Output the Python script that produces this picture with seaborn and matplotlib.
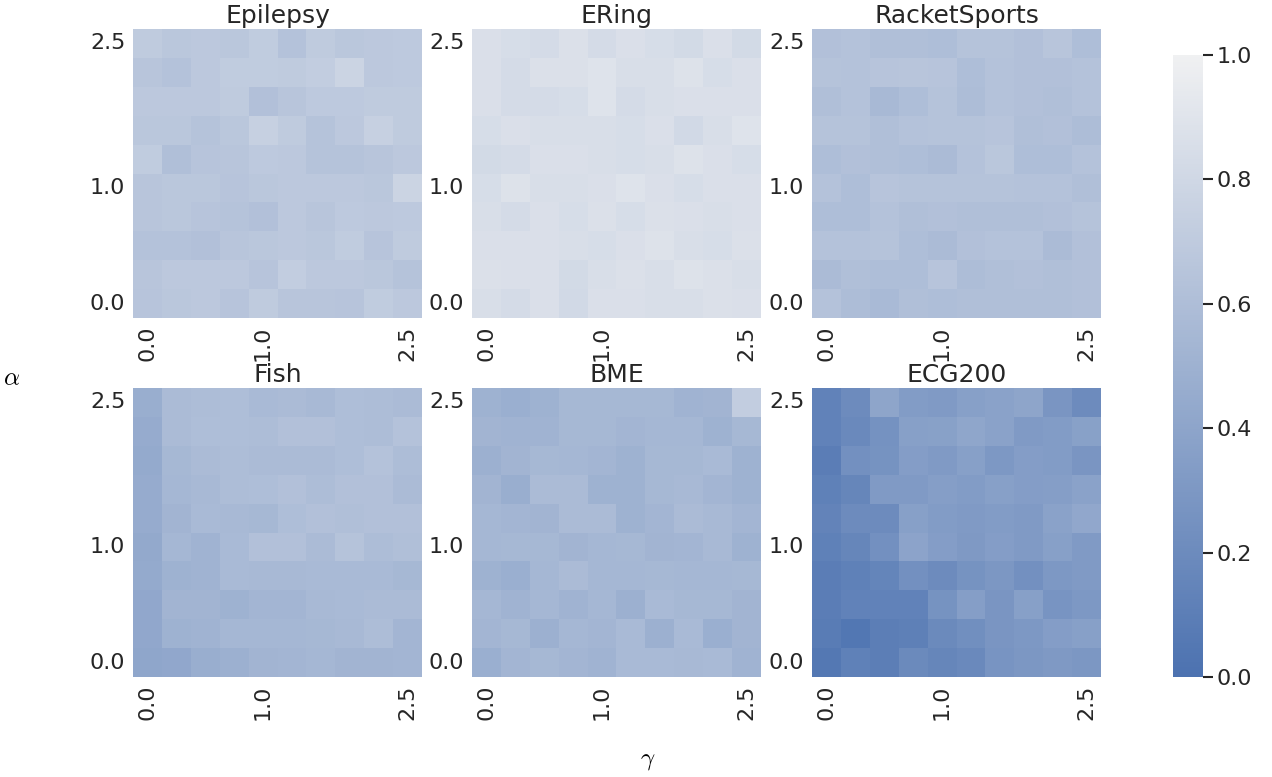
import numpy as np
import matplotlib
matplotlib.use("Agg")
import matplotlib.pyplot as plt
import seaborn as sns

sns.set_theme(style="darkgrid")
plt.rcParams["font.family"] = ["DejaVu Sans"]
plt.rcParams["mathtext.fontset"] = "cm"

# Grid labels (rows: alpha from 2.5 at top down to 0.0, columns: gamma 0.0 -> 2.5)
alpha_labels = ["2.5", "", "", "", "", "1.0", "", "", "", "0.0"]
gamma_labels = ["0.0", "", "", "", "1.0", "", "", "", "", "2.5"]

datasets = ["Epilepsy", "ERing", "RacketSports", "Fish", "BME", "ECG200"]

epilepsy = [
    [0.70, 0.67, 0.68, 0.67, 0.71, 0.63, 0.70, 0.67, 0.68, 0.69],
    [0.66, 0.63, 0.68, 0.71, 0.71, 0.70, 0.72, 0.77, 0.68, 0.69],
    [0.68, 0.68, 0.68, 0.70, 0.62, 0.66, 0.69, 0.69, 0.70, 0.70],
    [0.67, 0.67, 0.64, 0.67, 0.74, 0.70, 0.64, 0.68, 0.74, 0.70],
    [0.71, 0.61, 0.65, 0.66, 0.69, 0.68, 0.64, 0.64, 0.66, 0.68],
    [0.66, 0.67, 0.67, 0.65, 0.67, 0.68, 0.68, 0.68, 0.67, 0.77],
    [0.66, 0.67, 0.65, 0.64, 0.62, 0.68, 0.66, 0.69, 0.68, 0.69],
    [0.63, 0.63, 0.62, 0.66, 0.67, 0.68, 0.67, 0.71, 0.65, 0.70],
    [0.66, 0.68, 0.68, 0.68, 0.65, 0.72, 0.68, 0.68, 0.67, 0.64],
    [0.65, 0.67, 0.68, 0.65, 0.70, 0.66, 0.66, 0.65, 0.71, 0.68],
]

ering = [
    [0.86, 0.84, 0.83, 0.87, 0.83, 0.86, 0.84, 0.82, 0.86, 0.82],
    [0.86, 0.83, 0.87, 0.87, 0.89, 0.85, 0.85, 0.88, 0.84, 0.86],
    [0.86, 0.83, 0.83, 0.84, 0.89, 0.83, 0.85, 0.86, 0.86, 0.86],
    [0.84, 0.86, 0.85, 0.85, 0.85, 0.84, 0.86, 0.81, 0.85, 0.89],
    [0.82, 0.83, 0.86, 0.86, 0.85, 0.84, 0.85, 0.88, 0.86, 0.84],
    [0.84, 0.88, 0.85, 0.85, 0.86, 0.89, 0.86, 0.84, 0.86, 0.86],
    [0.85, 0.83, 0.86, 0.84, 0.87, 0.84, 0.87, 0.86, 0.85, 0.86],
    [0.86, 0.86, 0.86, 0.85, 0.84, 0.86, 0.88, 0.85, 0.84, 0.87],
    [0.87, 0.86, 0.86, 0.82, 0.85, 0.87, 0.85, 0.88, 0.87, 0.85],
    [0.85, 0.83, 0.86, 0.81, 0.86, 0.86, 0.85, 0.85, 0.87, 0.86],
]

racket_sports = [
    [0.62, 0.63, 0.61, 0.61, 0.60, 0.64, 0.64, 0.62, 0.66, 0.60],
    [0.64, 0.63, 0.65, 0.66, 0.65, 0.60, 0.63, 0.62, 0.62, 0.63],
    [0.61, 0.63, 0.56, 0.60, 0.64, 0.59, 0.63, 0.62, 0.61, 0.63],
    [0.64, 0.64, 0.61, 0.63, 0.64, 0.64, 0.65, 0.61, 0.62, 0.59],
    [0.60, 0.62, 0.61, 0.60, 0.58, 0.63, 0.67, 0.60, 0.60, 0.63],
    [0.63, 0.60, 0.65, 0.64, 0.64, 0.64, 0.64, 0.63, 0.63, 0.61],
    [0.60, 0.60, 0.63, 0.61, 0.62, 0.61, 0.61, 0.61, 0.62, 0.64],
    [0.63, 0.63, 0.64, 0.60, 0.58, 0.62, 0.63, 0.63, 0.58, 0.62],
    [0.58, 0.61, 0.60, 0.60, 0.65, 0.59, 0.61, 0.62, 0.61, 0.62],
    [0.63, 0.59, 0.57, 0.61, 0.60, 0.61, 0.61, 0.61, 0.61, 0.62],
]

fish = [
    [0.47, 0.58, 0.59, 0.60, 0.57, 0.58, 0.56, 0.60, 0.59, 0.58],
    [0.45, 0.58, 0.60, 0.60, 0.59, 0.62, 0.62, 0.60, 0.59, 0.63],
    [0.44, 0.55, 0.58, 0.59, 0.58, 0.58, 0.58, 0.60, 0.63, 0.59],
    [0.45, 0.54, 0.56, 0.59, 0.60, 0.62, 0.59, 0.62, 0.62, 0.58],
    [0.45, 0.52, 0.57, 0.56, 0.55, 0.60, 0.62, 0.61, 0.62, 0.62],
    [0.43, 0.54, 0.51, 0.57, 0.62, 0.62, 0.58, 0.64, 0.59, 0.61],
    [0.44, 0.50, 0.51, 0.57, 0.56, 0.56, 0.57, 0.57, 0.57, 0.55],
    [0.42, 0.52, 0.52, 0.50, 0.53, 0.53, 0.56, 0.57, 0.58, 0.58],
    [0.42, 0.50, 0.51, 0.54, 0.54, 0.54, 0.55, 0.56, 0.59, 0.53],
    [0.41, 0.42, 0.47, 0.49, 0.52, 0.53, 0.54, 0.52, 0.52, 0.53],
]

bme = [
    [0.50, 0.48, 0.50, 0.55, 0.55, 0.55, 0.55, 0.51, 0.52, 0.72],
    [0.52, 0.51, 0.51, 0.55, 0.55, 0.53, 0.54, 0.54, 0.50, 0.55],
    [0.49, 0.52, 0.55, 0.54, 0.53, 0.50, 0.55, 0.55, 0.57, 0.50],
    [0.52, 0.47, 0.58, 0.58, 0.50, 0.50, 0.55, 0.56, 0.53, 0.50],
    [0.54, 0.53, 0.52, 0.58, 0.58, 0.50, 0.53, 0.58, 0.56, 0.53],
    [0.54, 0.55, 0.55, 0.52, 0.54, 0.55, 0.52, 0.53, 0.56, 0.50],
    [0.50, 0.48, 0.54, 0.58, 0.54, 0.54, 0.55, 0.54, 0.54, 0.55],
    [0.54, 0.51, 0.54, 0.51, 0.54, 0.49, 0.57, 0.55, 0.55, 0.52],
    [0.53, 0.55, 0.49, 0.54, 0.53, 0.57, 0.49, 0.57, 0.48, 0.52],
    [0.48, 0.53, 0.55, 0.53, 0.51, 0.57, 0.57, 0.56, 0.57, 0.51],
]

ecg200 = [
    [0.13, 0.20, 0.40, 0.33, 0.32, 0.36, 0.38, 0.40, 0.28, 0.20],
    [0.13, 0.18, 0.25, 0.36, 0.37, 0.41, 0.38, 0.32, 0.33, 0.37],
    [0.09, 0.24, 0.26, 0.34, 0.32, 0.36, 0.30, 0.34, 0.33, 0.28],
    [0.12, 0.16, 0.32, 0.32, 0.35, 0.33, 0.36, 0.34, 0.35, 0.38],
    [0.14, 0.20, 0.20, 0.36, 0.33, 0.32, 0.33, 0.32, 0.38, 0.42],
    [0.12, 0.16, 0.24, 0.39, 0.34, 0.31, 0.34, 0.32, 0.36, 0.32],
    [0.09, 0.12, 0.15, 0.24, 0.20, 0.26, 0.29, 0.24, 0.30, 0.32],
    [0.09, 0.13, 0.13, 0.13, 0.26, 0.35, 0.28, 0.36, 0.27, 0.30],
    [0.08, 0.04, 0.10, 0.11, 0.19, 0.23, 0.28, 0.30, 0.34, 0.36],
    [0.05, 0.12, 0.10, 0.19, 0.16, 0.18, 0.27, 0.29, 0.31, 0.29],
]

matrices = [epilepsy, ering, racket_sports, fish, bme, ecg200]

cmap = sns.color_palette("light:b_r", as_cmap=True)

W, H = 1272, 777
fig = plt.figure(figsize=(W / 100, H / 100), dpi=100)


def px_axes(x0, y0, x1, y1):
    return fig.add_axes([x0 / W, 1 - y1 / H, (x1 - x0) / W, (y1 - y0) / H])


col_x = [(133, 422), (472, 761), (812, 1101)]
row_y = [(29, 318), (388, 677)]

for i, (name, mat) in enumerate(zip(datasets, matrices)):
    r, c = divmod(i, 3)
    ax = px_axes(col_x[c][0], row_y[r][0], col_x[c][1], row_y[r][1])
    sns.heatmap(np.array(mat), ax=ax, cmap=cmap, vmin=0, vmax=1, cbar=False,
                xticklabels=gamma_labels, yticklabels=alpha_labels)
    xt = [k + 0.5 for k, s in enumerate(gamma_labels) if s]
    yt = [k + 0.5 for k, s in enumerate(alpha_labels) if s]
    ax.set_xticks(xt)
    ax.set_xticklabels([s for s in gamma_labels if s], rotation=90, fontsize=16)
    ax.set_yticks(yt)
    ax.set_yticklabels([s for s in alpha_labels if s], rotation=0, fontsize=16)
    ax.tick_params(axis="x", pad=5.5, length=0)
    ax.tick_params(axis="y", pad=5.5, length=0)
    ax.set_title(name, fontsize=18, pad=4)
    ax.set_xlabel("")
    ax.set_ylabel("")

cax = px_axes(1173, 55, 1203, 677)
sm = matplotlib.cm.ScalarMappable(norm=matplotlib.colors.Normalize(0, 1), cmap=cmap)
cb = fig.colorbar(sm, cax=cax)
cb.outline.set_linewidth(0)
cb.set_ticks([0.0, 0.2, 0.4, 0.6, 0.8, 1.0])
cb.ax.tick_params(labelsize=16, length=7, width=1.5, color=".15", pad=3)

fig.text(12 / W, 1 - 378 / H, r"$\alpha$", fontsize=18, ha="center", va="center", color="black")
fig.text(648 / W, 1 - 760 / H, r"$\gamma$", fontsize=18, ha="center", va="center", color="black")

fig.savefig("out.png", dpi=100)
